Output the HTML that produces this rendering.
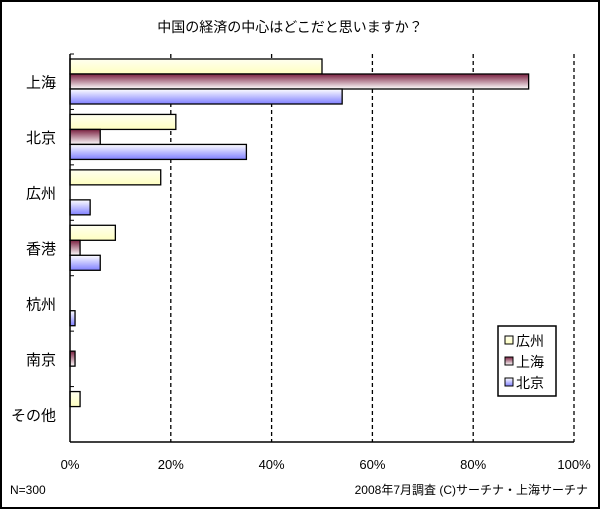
<!DOCTYPE html>
<html><head><meta charset="utf-8"><style>
body{margin:0;background:#fff}
svg{display:block;font-family:"Liberation Sans","Noto Sans CJK JP",sans-serif}
</style></head><body>
<svg id="c" width="600" height="509">
<defs>
<linearGradient id="gY" x1="0" y1="0" x2="0" y2="1"><stop offset="0" stop-color="#fffff0"/><stop offset="1" stop-color="#ffffc0"/></linearGradient>
<linearGradient id="gM" x1="0" y1="0" x2="0" y2="1"><stop offset="0" stop-color="#7a2040"/><stop offset="1" stop-color="#ffffff"/></linearGradient>
<linearGradient id="gB" x1="0" y1="0" x2="0" y2="1"><stop offset="0" stop-color="#ffffff"/><stop offset="1" stop-color="#8080ff"/></linearGradient>
</defs>
<rect x="1" y="1" width="598" height="507" fill="#fff" stroke="#000" stroke-width="2"/>
<text x="290" y="32" font-size="14" text-anchor="middle">中国の経済の中心はどこだと思いますか？</text>
<g id="grid"></g>
<g id="bars"></g>
<g id="axes"></g>
<g>
<rect x="498" y="326" width="58" height="70" fill="#fff" stroke="#000" stroke-width="1.5"/>
<rect x="505" y="336" width="8" height="8" fill="url(#gY)" stroke="#000"/>
<text x="516" y="346" font-size="14">広州</text>
<rect x="505" y="357" width="8" height="8" fill="url(#gM)" stroke="#000"/>
<text x="516" y="367" font-size="14">上海</text>
<rect x="505" y="378" width="8" height="8" fill="url(#gB)" stroke="#000"/>
<text x="516" y="388" font-size="14">北京</text>
</g>
<text x="10" y="494" font-size="12">N=300</text>
<text x="588" y="494" font-size="12" text-anchor="end">2008年7月調査 (C)サーチナ・上海サーチナ</text>
</svg>
<script>
const categories=["上海","北京","広州","香港","杭州","南京","その他"];
const seriesNames=["広州","上海","北京"];
const guangzhouVals=[50,21,18,9,0,0,2];
const shanghaiVals=[91,6,0,2,0,1,0];
const beijingVals=[54,35,4,6,1,0,0];
const tickLabels=["0%","20%","40%","60%","80%","100%"];
const tickVals=[0,20,40,60,80,100];
const NS="http://www.w3.org/2000/svg";
const X0=70,X1=574,Y0=54,Y1=442;
const band=(Y1-Y0)/categories.length;
const xs=v=>X0+(X1-X0)*v/100;
const fills=["url(#gY)","url(#gM)","url(#gB)"];
const series=[guangzhouVals,shanghaiVals,beijingVals];
const keys=["guangzhou","shanghai","beijing"];
function mk(t,a,p){const e=document.createElementNS(NS,t);for(const k in a)e.setAttribute(k,a[k]);p.appendChild(e);return e;}
const grid=document.getElementById("grid"),bars=document.getElementById("bars"),axes=document.getElementById("axes");
tickVals.forEach((v,i)=>{
  if(v>0){const l=mk("line",{x1:xs(v),x2:xs(v),y1:Y0,y2:Y1,stroke:"#000","stroke-width":1.3,"stroke-dasharray":"4,3"},grid);
  
  }
  const t=mk("text",{x:xs(v),y:469,"font-size":13,"text-anchor":"middle"},axes);t.textContent=tickLabels[i];
  
  
});
categories.forEach((c,i)=>{
  const yb=Y0+band*i;
  series.forEach((s,j)=>{
    if(s[i]<=0)return;
    const r=mk("rect",{x:X0,y:yb+5+15*j,width:xs(s[i])-X0,height:15,fill:fills[j],stroke:"#000","stroke-width":1.3},bars);
    
    
  });
  const t=mk("text",{x:56,y:yb+band/2+6,"font-size":15,"text-anchor":"end"},axes);t.textContent=c;
  
  
  const tk=mk("line",{x1:X0,x2:X0+4,y1:yb,y2:yb,stroke:"#000"},axes);
  
  
});
const ya=mk("line",{x1:X0,x2:X0,y1:Y0,y2:Y1,stroke:"#000","stroke-width":1.5},axes);


const xa=mk("line",{x1:X0,x2:X1,y1:Y1,y2:Y1,stroke:"#000","stroke-width":1.5},axes);


</script>
</body></html>
